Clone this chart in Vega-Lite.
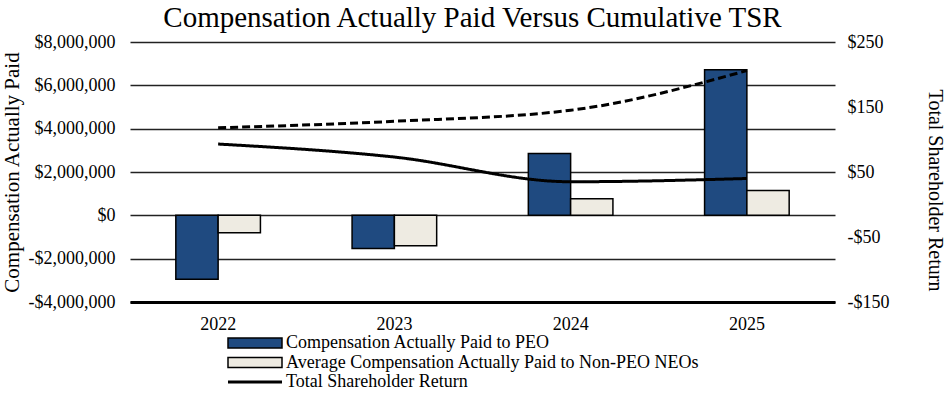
{
  "$schema": "https://vega.github.io/schema/vega-lite/v6.json",
  "autosize": {"type": "none"},
  "width": 705,
  "height": 260,
  "padding": {"left": 130, "top": 42, "right": 115, "bottom": 92},
  "background": "white",
  "title": {
    "text": "Compensation Actually Paid Versus Cumulative TSR",
    "font": "Liberation Serif",
    "fontSize": 29,
    "fontWeight": "normal",
    "color": "black",
    "anchor": "middle",
    "offset": 0,
    "dx": -10
  },
  "config": {
    "view": {"stroke": null},
    "axis": {"labelFont": "Liberation Serif", "titleFont": "Liberation Serif", "labelColor": "black", "titleColor": "black", "titleFontWeight": "normal"}
  },
  "datasets": {
    "bars": [
      {"year": "2022", "series": "Compensation Actually Paid to PEO", "value": -2950000},
      {"year": "2022", "series": "Average Compensation Actually Paid to Non-PEO NEOs", "value": -800000},
      {"year": "2023", "series": "Compensation Actually Paid to PEO", "value": -1530000},
      {"year": "2023", "series": "Average Compensation Actually Paid to Non-PEO NEOs", "value": -1400000},
      {"year": "2024", "series": "Compensation Actually Paid to PEO", "value": 2850000},
      {"year": "2024", "series": "Average Compensation Actually Paid to Non-PEO NEOs", "value": 760000},
      {"year": "2025", "series": "Compensation Actually Paid to PEO", "value": 6720000},
      {"year": "2025", "series": "Average Compensation Actually Paid to Non-PEO NEOs", "value": 1150000}
    ],
    "tsr": [
      {"year": "2022", "series": "Total Shareholder Return", "value": 93},
      {"year": "2023", "series": "Total Shareholder Return", "value": 73},
      {"year": "2024", "series": "Total Shareholder Return", "value": 35},
      {"year": "2025", "series": "Total Shareholder Return", "value": 40},
      {"year": "2022", "series": "Peer Group TSR", "value": 118},
      {"year": "2023", "series": "Peer Group TSR", "value": 128},
      {"year": "2024", "series": "Peer Group TSR", "value": 145},
      {"year": "2025", "series": "Peer Group TSR", "value": 206}
    ]
  },
  "layer": [
    {
      "data": {"name": "bars"},
      "mark": {"type": "bar", "stroke": "black", "strokeWidth": 1.5},
      "encoding": {
        "x": {
          "field": "year", "type": "nominal",
          "scale": {"paddingInner": 0.52, "paddingOuter": 0.26},
          "axis": {"title": null, "labelAngle": 0, "labelFontSize": 18, "ticks": false, "labelPadding": 13, "domainColor": "black", "domainWidth": 3}
        },
        "xOffset": {
          "field": "series", "type": "nominal",
          "scale": {"domain": ["Compensation Actually Paid to PEO", "Average Compensation Actually Paid to Non-PEO NEOs"], "paddingInner": 0, "paddingOuter": 0}
        },
        "y": {
          "field": "value", "type": "quantitative",
          "scale": {"domain": [-4000000, 8000000], "nice": false},
          "axis": {
            "title": "Compensation Actually Paid",
            "titleFontSize": 21,
            "titlePadding": 6,
            "values": [-4000000, -2000000, 0, 2000000, 4000000, 6000000, 8000000],
            "labelExpr": "(datum.value < 0 ? '-' : '') + '$' + format(abs(datum.value), ',')",
            "labelFontSize": 18,
            "ticks": false,
            "labelPadding": 15,
            "domain": false,
            "grid": true,
            "gridColor": "#222222",
            "gridWidth": 1.5
          }
        },
        "color": {
          "field": "series", "type": "nominal",
          "scale": {
            "domain": ["Compensation Actually Paid to PEO", "Average Compensation Actually Paid to Non-PEO NEOs", "Total Shareholder Return"],
            "range": ["#1f4a80", "#eeebe2", "black"]
          },
          "legend": {
            "orient": "none",
            "legendX": 116,
            "legendY": 292,
            "title": null,
            "direction": "vertical",
            "labelFont": "Liberation Serif",
            "labelFontSize": 18,
            "labelColor": "black",
            "labelLimit": 0,
            "symbolSize": 324,
            "rowPadding": 1.5,
            "labelOffset": 22,
            "symbolStrokeColor": "black",
            "symbolStrokeWidth": 1.5,
            "symbolOpacity": 1,
            "encode": {
              "symbols": {
                "update": {
                  "shape": {"signal": "datum.value === 'Total Shareholder Return' ? 'M-3,0H3' : 'M-3,-0.55H3V0.55H-3Z'"},
                  "strokeWidth": {"signal": "datum.value === 'Total Shareholder Return' ? 3 : 1.5"}
                }
              }
            }
          }
        }
      }
    },
    {
      "data": {"name": "tsr"},
      "mark": {"type": "line", "color": "black", "strokeWidth": 3, "interpolate": "monotone"},
      "encoding": {
        "x": {"field": "year", "type": "nominal"},
        "y": {
          "field": "value", "type": "quantitative",
          "scale": {"domain": [-150, 250], "nice": false},
          "axis": {
            "orient": "right",
            "title": "Total Shareholder Return",
            "titleFontSize": 20,
            "titlePadding": 36,
            "titleY": 148,
            "values": [-150, -50, 50, 150, 250],
            "labelExpr": "(datum.value < 0 ? '-' : '') + '$' + format(abs(datum.value), ',')",
            "labelFontSize": 18,
            "ticks": false,
            "labelPadding": 12,
            "domain": false,
            "grid": false
          }
        },
        "detail": {"field": "series", "type": "nominal"},
        "strokeDash": {
          "field": "series", "type": "nominal",
          "scale": {"domain": ["Total Shareholder Return", "Peer Group TSR"], "range": [[1, 0], [8, 4]]},
          "legend": null
        }
      }
    }
  ],
  "resolve": {"scale": {"y": "independent"}}
}
